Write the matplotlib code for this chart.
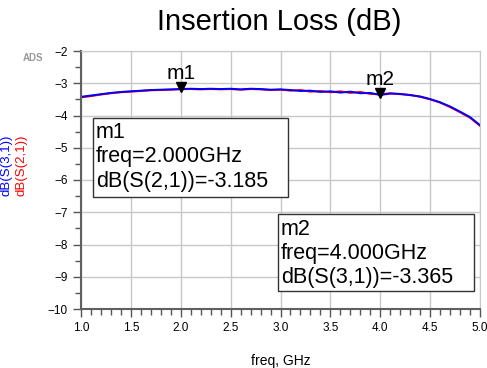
import matplotlib
matplotlib.use("Agg")
from matplotlib import pyplot as plt
from matplotlib.ticker import MultipleLocator
import matplotlib.patches as patches

plt.rcParams['font.family'] = ['Liberation Sans', 'DejaVu Sans']

# frequency in GHz, 0.1 step
freq = [1.0, 1.1, 1.2, 1.3, 1.4, 1.5, 1.6, 1.7, 1.8, 1.9, 2.0,
        2.1, 2.2, 2.3, 2.4, 2.5, 2.6, 2.7, 2.8, 2.9, 3.0,
        3.1, 3.2, 3.3, 3.4, 3.5, 3.6, 3.7, 3.8, 3.9, 4.0,
        4.1, 4.2, 4.3, 4.4, 4.5, 4.6, 4.7, 4.8, 4.9, 5.0]
s21 = [-3.44, -3.40, -3.35, -3.31, -3.28, -3.26, -3.24, -3.22, -3.21, -3.20, -3.185,
       -3.18, -3.19, -3.18, -3.19, -3.18, -3.20, -3.18, -3.19, -3.21, -3.20,
       -3.23, -3.21, -3.26, -3.24, -3.28, -3.25, -3.30, -3.27, -3.33, -3.34,
       -3.31, -3.34, -3.36, -3.42, -3.50, -3.60, -3.74, -3.90, -4.07, -4.32]
s31 = [-3.42, -3.38, -3.34, -3.30, -3.27, -3.25, -3.23, -3.21, -3.20, -3.19, -3.18,
       -3.17, -3.18, -3.17, -3.18, -3.17, -3.19, -3.17, -3.18, -3.20, -3.19,
       -3.21, -3.24, -3.23, -3.27, -3.25, -3.29, -3.26, -3.31, -3.30, -3.365,
       -3.32, -3.33, -3.37, -3.41, -3.49, -3.59, -3.72, -3.88, -4.05, -4.30]

m1 = (2.0, -3.185)
m2 = (4.0, -3.365)
m1_lines = ['m1', 'freq=2.000GHz', 'dB(S(2,1))=-3.185']
m2_lines = ['m2', 'freq=4.000GHz', 'dB(S(3,1))=-3.365']

W, H = 487, 368
fig = plt.figure(figsize=(W / 100, H / 100), dpi=100)
ax = fig.add_axes([81 / W, 1 - 309 / H, 399 / W, 258 / H])

ax.plot(freq, s21, color='red', lw=1.4)
ax.plot(freq, s31, color='blue', lw=1.4)

ax.set_xlim(1.0, 5.0)
ax.set_ylim(-10, -2)
ax.xaxis.set_major_locator(MultipleLocator(0.5))
ax.xaxis.set_minor_locator(MultipleLocator(0.1))
ax.yaxis.set_major_locator(MultipleLocator(1))
ax.yaxis.set_minor_locator(MultipleLocator(0.5))
ax.set_xticklabels(['%.1f' % v for v in ax.get_xticks()])
ax.grid(True, which='major', color='#c8c8c8', lw=1)
ax.tick_params(which='major', length=6, width=1, labelsize=8.5, color='#555555')
ax.tick_params(which='minor', length=4, width=1, color='#555555')
for s in ['left', 'bottom']:
    ax.spines[s].set_color('#606060')
    ax.spines[s].set_linewidth(1.5)
for s in ['right', 'top']:
    ax.spines[s].set_color('#c8c8c8')

ax.set_xlabel('freq, GHz', fontsize=10, labelpad=14)

# markers
for (mx, my), name in [(m1, 'm1'), (m2, 'm2')]:
    ax.plot(mx, my + 0.06, marker='v', color='black', ms=7, clip_on=False)
    ax.text(mx, my + 0.2, name, fontsize=15, ha='center', va='bottom')

# marker readout boxes, in figure pixels
for (x0, y0, x1, y1), lines in [((93, 118, 288, 197), m1_lines),
                                ((278, 214, 474, 291), m2_lines)]:
    fig.add_artist(patches.Rectangle((x0 / W, 1 - y1 / H), (x1 - x0) / W, (y1 - y0) / H,
                                     transform=fig.transFigure, fc='white',
                                     ec='#333333', lw=1))
    for i, t in enumerate(lines):
        fig.text((x0 + 3) / W, 1 - (y0 + 15 + 24 * i) / H, t, fontsize=15.5,
                 ha='left', va='center')

fig.text(279 / W, 1 - 22 / H, 'Insertion Loss (dB)', fontsize=21, ha='center', va='center')
fig.text(33 / W, 1 - 58 / H, 'ADS', fontsize=7, color='#999999', ha='center', va='center',
         weight='bold')
fig.text(7 / W, 0.55, 'dB(S(3,1))', color='blue', rotation=90, fontsize=9.5,
         ha='center', va='center')
fig.text(21 / W, 0.55, 'dB(S(2,1))', color='red', rotation=90, fontsize=9.5,
         ha='center', va='center')

fig.savefig('out.png', dpi=100)
